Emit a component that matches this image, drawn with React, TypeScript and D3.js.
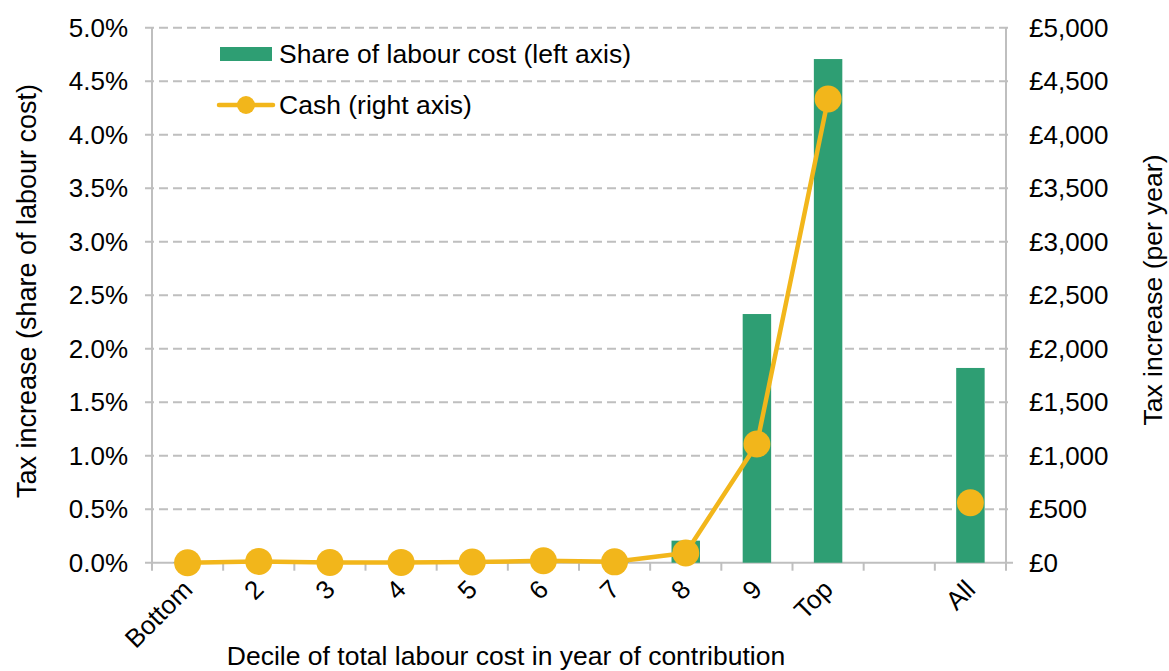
import * as d3 from "d3";

const categories = ["Bottom", "2", "3", "4", "5", "6", "7", "8", "9", "Top", "", "All"];
const shareValues: (number | null)[] = [0.003, 0.012, 0.002, 0.003, 0.006, 0.015, 0.004, 0.206, 2.324, 4.707, null, 1.82];
const cashValues: (number | null)[] = [0, 12, 2, 3, 6, 18, 8, 91, 1109, 4333, null, 561];
const leftTicks = [0, 0.5, 1, 1.5, 2, 2.5, 3, 3.5, 4, 4.5, 5];
const rightTicks = [0, 500, 1000, 1500, 2000, 2500, 3000, 3500, 4000, 4500, 5000];

const green = "#2E9E73";
const yellow = "#F2B61B";
const grey = "#BFBFBF";
const font = "'Liberation Sans', Arial, sans-serif";

export default function App() {
  const width = 1169;
  const height = 671;
  const left = 152;
  const right = 1006;
  const top = 27.7;
  const bottom = 562.7;

  const x = d3.scaleBand<string>().domain(categories.map((c, i) => `${i}`)).range([left, right]).paddingInner(0.6).paddingOuter(0.3);
  const xSlot = d3.scaleBand<string>().domain(categories.map((c, i) => `${i}`)).range([left, right]);
  const yL = d3.scaleLinear().domain([0, 5]).range([bottom, top]);
  const yR = d3.scaleLinear().domain([0, 5000]).range([bottom, top]);
  const cx = (i: number) => (xSlot(`${i}`) ?? 0) + xSlot.bandwidth() / 2;

  const linePts = cashValues.slice(0, 10).map((v, i) => [cx(i), yR(v ?? 0)] as [number, number]);
  const line = d3.line()(linePts) ?? "";

  return (
    <svg width={width} height={height} style={{ position: "absolute", left: 0, top: 0, fontFamily: font }}>
      <rect width={width} height={height} fill="#fff" />
      {leftTicks.map((t) => (
        <line
          key={t}
          x1={left - 7}
          x2={right + 7}
          y1={yL(t)}
          y2={yL(t)}
          stroke={grey}
          strokeWidth={2}
          strokeDasharray={t === 0 ? undefined : "9,5"}
        />
      ))}
      <line x1={left} x2={left} y1={top} y2={bottom} stroke={grey} strokeWidth={2} />
      <line x1={right} x2={right} y1={top} y2={bottom} stroke={grey} strokeWidth={2} />
      {d3.range(categories.length + 1).map((i) => {
        const xx = left + i * xSlot.step();
        return <line key={i} x1={xx} x2={xx} y1={bottom} y2={bottom + 8} stroke={grey} strokeWidth={2} />;
      })}
      {shareValues.map((v, i) =>
        v == null ? null : (
          <rect key={i} x={x(`${i}`)} width={x.bandwidth()} y={yL(v)} height={bottom - yL(v)} fill={green} />
        )
      )}
      <path d={line} fill="none" stroke={yellow} strokeWidth={4.5} strokeLinejoin="round" />
      {cashValues.map((v, i) => (v == null ? null : <circle key={i} cx={cx(i)} cy={yR(v)} r={13.5} fill={yellow} />))}
      {leftTicks.map((t) => (
        <text key={t} x={128} y={yL(t)} dy="0.35em" textAnchor="end" fontSize={26} fill="#000">
          {`${t.toFixed(1)}%`}
        </text>
      ))}
      {rightTicks.map((t) => (
        <text key={t} x={1029} y={yR(t)} dy="0.35em" textAnchor="start" fontSize={26} fill="#000">
          {`£${d3.format(",")(t)}`}
        </text>
      ))}
      {categories.map((c, i) => (
        <text
          key={i}
          transform={`translate(${cx(i)},${bottom + 22}) rotate(-45)`}
          textAnchor="end"
          dy="0.35em"
          fontSize={26}
          fill="#000"
        >
          {c}
        </text>
      ))}
      <text x={506} y={665} textAnchor="middle" fontSize={26.5} fill="#000">
        Decile of total labour cost in year of contribution
      </text>
      <text transform={`translate(36,291) rotate(-90)`} textAnchor="middle" fontSize={27} fill="#000">
        Tax increase (share of labour cost)
      </text>
      <text transform={`translate(1162,290) rotate(-90)`} textAnchor="middle" fontSize={26.5} fill="#000">
        Tax increase (per year)
      </text>
      <rect x={220} y={47} width={52} height={14} fill={green} />
      <text x={279} y={54} dy="0.35em" fontSize={26.5} fill="#000">
        Share of labour cost (left axis)
      </text>
      <line x1={219} x2={273} y1={105} y2={105} stroke={yellow} strokeWidth={4.5} strokeLinecap="round" />
      <circle cx={246} cy={105} r={9} fill={yellow} />
      <text x={279} y={105} dy="0.35em" fontSize={26.5} fill="#000">
        Cash (right axis)
      </text>
    </svg>
  );
}
